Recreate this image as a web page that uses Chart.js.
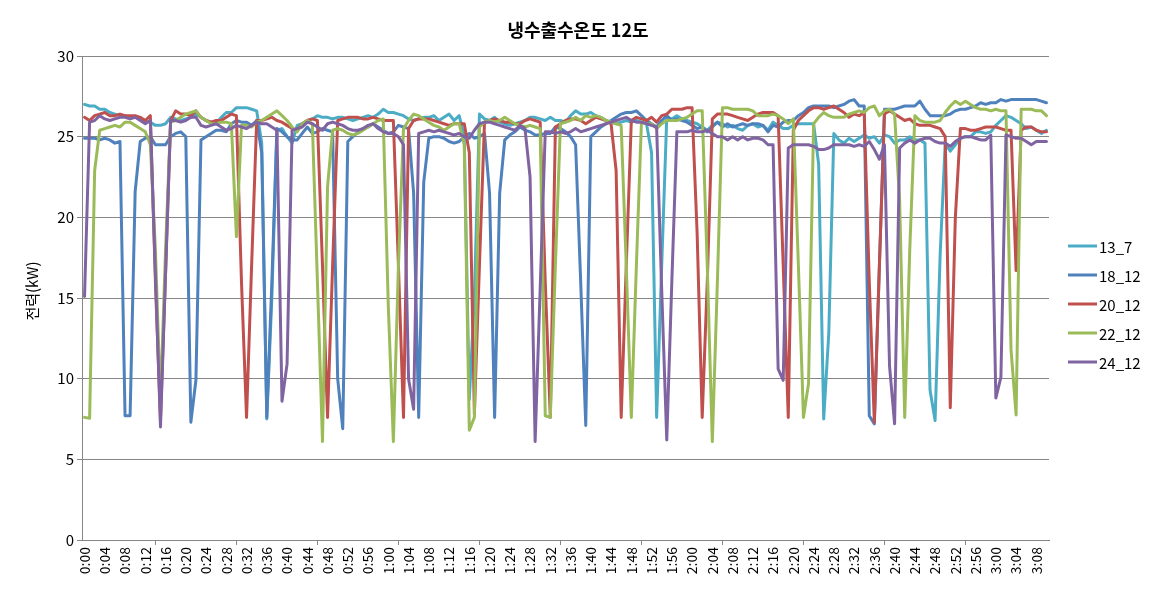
<!DOCTYPE html>
<html>
<head>
<meta charset="utf-8">
<script src="https://cdn.jsdelivr.net/npm/chart.js@4.4.0/dist/chart.umd.min.js"></script>
<style>
  html, body { margin: 0; padding: 0; background: #fff; }
</style>
</head>
<body>
<canvas id="chart" width="1154" height="606"></canvas>
<script>
// chart texts
const titleText = '냉수출수온도 12도';
const yTitle = '전력(kW)';
const seriesNames = ['13_7', '18_12', '20_12', '22_12', '24_12'];
const seriesColors = ['#4BACC6', '#4F81BD', '#C0504D', '#9BBB59', '#8064A2'];

// one category per minute, 0:00 .. 3:10
const timeLabels = [];
for (let m = 0; m <= 190; m++) {
    timeLabels.push(Math.floor(m / 60) + ':' + String(m % 60).padStart(2, '0'));
}

// values (kW)
const s13_7 = [
    27.0, 26.9, 26.9, 26.7, 26.7, 26.5, 26.4, 26.3, 26.3, 26.2, 26.2, 26.1, 26.0, 25.9, 25.7, 25.7, 25.8, 26.2, 26.1, 26.0,
    26.1, 26.2, 26.4, 26.2, 26.0, 25.9, 25.8, 26.2, 26.5, 26.5, 26.8, 26.8, 26.8, 26.7, 26.6, 24.6, 7.5, 15.0, 25.4, 25.5,
    25.0, 24.6, 25.7, 25.8, 26.0, 26.1, 26.3, 26.2, 26.2, 26.1, 26.2, 26.2, 26.1, 26.0, 26.1, 26.2, 26.3, 26.2, 26.4, 26.7,
    26.5, 26.5, 26.4, 26.3, 26.1, 26.0, 26.1, 26.2, 26.2, 26.3, 26.0, 26.2, 26.4, 26.0, 26.3, 25.0, 8.7, 15.0, 26.4, 26.1,
    26.0, 26.2, 25.9, 25.8, 25.7, 25.8, 25.9, 26.0, 26.2, 26.2, 26.1, 26.0, 26.2, 26.0, 26.0, 25.9, 26.3, 26.6, 26.4, 26.4,
    26.5, 26.3, 26.2, 26.0, 25.9, 25.8, 25.9, 26.0, 25.9, 26.0, 25.9, 25.8, 24.0, 7.6, 17.0, 26.2, 26.1, 26.3, 26.1, 26.0,
    25.9, 25.8, 25.6, 25.4, 25.7, 25.9, 25.8, 25.6, 25.7, 25.5, 25.4, 25.7, 25.8, 25.6, 25.7, 25.4, 25.9, 25.7, 25.5, 25.5,
    25.7, 25.8, 25.8, 25.8, 25.8, 23.3, 7.5, 12.8, 25.2, 24.8, 24.6, 24.9, 24.7, 24.9, 25.1, 24.9, 25.0, 24.6, 25.1, 25.0,
    24.6, 24.8, 24.8, 25.0, 24.8, 24.8, 24.6, 9.3, 7.4, 17.7, 24.6, 24.1, 24.5, 24.9, 25.0, 25.0, 25.3, 25.3, 25.2, 25.3,
    25.7, 26.0, 26.3, 26.2, 26.0, 25.8, 25.5, 25.6, 25.4, 25.2, 25.4
];
const s18_12 = [
    24.9, 24.9, 24.9, 24.8, 24.9, 24.8, 24.6, 24.7, 7.7, 7.7, 21.6, 24.7, 24.9, 25.0, 24.5, 24.5, 24.5, 25.0, 25.2, 25.3,
    25.0, 7.3, 9.9, 24.8, 25.0, 25.2, 25.4, 25.4, 25.3, 25.8, 26.0, 25.9, 25.9, 25.7, 26.0, 24.0, 7.6, 16.0, 25.5, 25.3,
    25.0, 24.8, 24.8, 25.2, 25.6, 25.2, 25.3, 25.5, 25.4, 25.3, 10.0, 6.9, 24.7, 25.0, 25.3, 25.5, 25.6, 25.8, 25.6, 25.4,
    25.2, 25.3, 25.7, 25.6, 25.5, 21.5, 7.6, 22.2, 24.9, 25.0, 25.0, 24.9, 24.7, 24.6, 24.7, 25.0, 25.2, 24.9, 25.0, 25.2,
    21.5, 7.6, 21.5, 24.8, 25.1, 25.3, 25.6, 25.4, 25.3, 25.1, 25.1, 25.2, 25.2, 25.6, 25.5, 25.3, 25.0, 24.5, 16.0, 7.1,
    25.0, 25.3, 25.6, 25.8, 26.0, 26.2, 26.4, 26.5, 26.5, 26.6, 26.3, 26.0, 25.8, 25.6, 26.0, 26.3, 26.0, 26.1, 26.0, 25.9,
    25.7, 25.5, 25.6, 25.3, 25.6, 25.9, 25.6, 25.8, 25.6, 25.7, 25.8, 25.7, 25.8, 25.8, 25.7, 25.3, 25.7, 25.6, 25.9, 26.0,
    26.0, 26.3, 26.5, 26.8, 26.9, 26.9, 26.9, 26.9, 26.8, 26.9, 27.0, 27.2, 27.3, 26.9, 26.9, 7.7, 7.2, 17.0, 26.7, 26.7,
    26.7, 26.8, 26.9, 26.9, 26.9, 27.2, 26.7, 26.3, 26.3, 26.3, 26.3, 26.4, 26.6, 26.7, 26.7, 26.8, 26.9, 27.1, 27.0, 27.1,
    27.1, 27.3, 27.2, 27.3, 27.3, 27.3, 27.3, 27.3, 27.3, 27.2, 27.1
];
const s20_12 = [
    26.2, 26.0, 26.3, 26.4, 26.5, 26.3, 26.3, 26.4, 26.3, 26.3, 26.3, 26.2, 26.0, 26.3, 16.0, 7.5, 16.5, 26.0, 26.6, 26.4,
    26.4, 26.3, 26.6, 26.2, 26.0, 25.9, 26.0, 26.0, 26.2, 26.4, 26.3, 16.0, 7.6, 17.0, 26.0, 26.0, 26.1, 26.2, 26.0, 25.9,
    25.7, 25.5, 25.4, 25.8, 26.0, 26.1, 26.0, 17.0, 7.6, 17.0, 26.0, 26.1, 26.2, 26.2, 26.2, 26.1, 26.1, 26.2, 26.1, 26.0,
    26.0, 26.0, 17.0, 7.6, 25.5, 26.0, 26.1, 26.1, 26.1, 26.0, 25.9, 25.8, 25.7, 25.8, 25.8, 25.8, 24.0, 7.8, 17.0, 25.9,
    26.0, 26.1, 26.0, 25.9, 25.9, 25.8, 25.8, 26.0, 26.1, 26.0, 25.9, 16.0, 7.6, 25.6, 25.8, 26.0, 26.1, 26.1, 26.0, 25.8,
    26.0, 26.2, 26.1, 26.0, 25.8, 22.9, 7.6, 17.0, 26.0, 26.2, 26.1, 26.0, 26.2, 25.9, 26.3, 26.4, 26.7, 26.7, 26.7, 26.8,
    26.8, 19.0, 7.6, 16.0, 26.1, 26.4, 26.4, 26.4, 26.3, 26.2, 26.1, 26.0, 26.2, 26.4, 26.5, 26.5, 26.5, 26.3, 17.0, 7.6,
    25.4, 26.0, 26.3, 26.6, 26.8, 26.8, 26.7, 26.8, 26.9, 26.7, 26.5, 26.2, 26.4, 26.3, 26.5, 16.0, 7.3, 17.0, 26.4, 26.6,
    26.4, 26.2, 26.0, 26.1, 25.8, 25.7, 25.7, 25.7, 25.6, 25.5, 25.0, 8.2, 20.0, 25.5, 25.5, 25.4, 25.4, 25.5, 25.6, 25.6,
    25.6, 25.5, 25.4, 25.4, 16.7, 25.4, 25.6, 25.6, 25.4, 25.3, 25.3
];
const s22_12 = [
    7.6, 7.55, 22.9, 25.4, 25.5, 25.6, 25.7, 25.6, 25.9, 25.9, 25.7, 25.5, 25.3, 24.5, 18.0, 8.5, 18.0, 25.9, 26.0, 26.2,
    26.4, 26.5, 26.6, 26.2, 26.0, 25.8, 25.8, 25.9, 25.9, 25.8, 18.8, 25.7, 25.7, 25.6, 25.9, 26.0, 26.2, 26.4, 26.6, 26.3,
    26.0, 25.6, 25.3, 25.8, 26.0, 25.8, 16.0, 6.1, 21.9, 25.4, 25.5, 25.4, 25.2, 25.1, 25.2, 25.4, 25.6, 25.8, 26.0, 26.1,
    14.5, 6.1, 17.0, 25.5, 26.0, 26.4, 26.3, 26.1, 25.9, 25.7, 25.6, 25.4, 25.6, 25.8, 25.8, 24.5, 6.8, 7.6, 25.6, 25.9,
    26.0, 25.9, 26.0, 26.2, 26.0, 25.8, 25.7, 25.6, 25.7, 25.6, 25.5, 7.7, 7.6, 17.0, 25.8, 25.9, 26.0, 26.2, 26.0, 26.3,
    26.2, 26.3, 26.2, 26.0, 25.9, 25.8, 25.7, 17.0, 7.6, 17.0, 25.9, 25.8, 25.8, 25.5, 25.8, 26.0, 26.0, 26.0, 26.1, 26.2,
    26.4, 26.6, 26.6, 17.0, 6.1, 16.0, 26.8, 26.8, 26.7, 26.7, 26.7, 26.7, 26.6, 26.3, 26.3, 26.3, 26.4, 26.3, 26.1, 25.8,
    26.1, 17.0, 7.6, 9.7, 25.8, 26.2, 26.5, 26.3, 26.2, 26.2, 26.2, 26.4, 26.5, 26.6, 26.5, 26.8, 26.9, 26.3, 26.6, 26.7,
    26.4, 21.0, 7.6, 18.0, 26.3, 26.0, 25.9, 25.9, 25.9, 26.0, 26.5, 26.9, 27.2, 27.0, 27.2, 27.0, 26.8, 26.7, 26.7, 26.6,
    26.7, 26.6, 26.6, 11.8, 7.75, 26.7, 26.7, 26.7, 26.6, 26.6, 26.3
];
const s24_12 = [
    15.1, 25.9, 26.0, 26.3, 26.1, 26.0, 26.1, 26.2, 26.2, 26.1, 26.2, 26.0, 25.8, 26.0, 16.5, 7.0, 16.5, 26.0, 26.0, 25.9,
    26.0, 26.2, 26.2, 25.7, 25.6, 25.7, 25.8, 25.6, 25.4, 25.5, 25.7, 25.6, 25.5, 25.7, 25.9, 25.8, 25.8, 25.6, 25.4, 8.6,
    10.9, 25.4, 25.5, 25.6, 25.9, 25.8, 25.6, 25.4, 25.8, 25.9, 25.8, 25.7, 25.5, 25.4, 25.4, 25.5, 25.7, 25.8, 25.5, 25.3,
    25.2, 25.2, 25.0, 24.5, 10.0, 8.1, 25.2, 25.3, 25.4, 25.3, 25.4, 25.3, 25.2, 25.1, 25.2, 25.0, 24.9, 25.4, 25.8, 25.9,
    25.9, 25.8, 25.7, 25.6, 25.5, 25.4, 25.7, 25.5, 22.5, 6.1, 15.6, 25.3, 25.3, 25.2, 25.3, 25.2, 25.3, 25.5, 25.3, 25.4,
    25.5, 25.6, 25.7, 25.8, 25.9, 26.0, 26.1, 26.2, 26.0, 25.9, 25.9, 25.8, 25.7, 25.6, 15.5, 6.2, 16.0, 25.3, 25.3, 25.3,
    25.4, 25.3, 25.3, 25.4, 25.2, 25.0, 25.0, 24.8, 25.0, 24.8, 25.0, 24.8, 24.9, 24.9, 24.8, 24.5, 24.5, 10.6, 9.9, 24.3,
    24.5, 24.5, 24.5, 24.5, 24.4, 24.2, 24.2, 24.3, 24.5, 24.5, 24.5, 24.5, 24.4, 24.5, 24.4, 24.7, 24.2, 23.6, 24.5, 10.8,
    7.2, 24.3, 24.6, 24.8, 24.6, 24.8, 24.9, 24.9, 24.7, 24.6, 24.6, 24.4, 24.7, 24.9, 25.0, 25.0, 24.9, 24.8, 24.8, 25.1,
    8.8, 10.1, 25.1, 25.0, 24.9, 24.9, 24.7, 24.5, 24.7, 24.7, 24.7
];
const seriesData = [s13_7, s18_12, s20_12, s22_12, s24_12];

const FONT = '"Noto Sans CJK KR", "Noto Sans", sans-serif';
const GRID = '#868686';

// title, y-axis title and legend drawn by hand to sit where Excel put them
const decorPlugin = {
    id: 'decor',
    afterDraw(chart) {
        const ctx = chart.ctx;
        ctx.save();
        ctx.fillStyle = '#000';
        ctx.textAlign = 'center';
        ctx.textBaseline = 'middle';
        ctx.font = 'bold 18px ' + FONT;
        ctx.fillText(titleText, 578, 30);

        ctx.save();
        ctx.translate(32, 291);
        ctx.rotate(-Math.PI / 2);
        ctx.font = '15px ' + FONT;
        ctx.fillText(yTitle, 0, 0);
        ctx.restore();

        ctx.textAlign = 'left';
        ctx.font = '15px ' + FONT;
        seriesNames.forEach((name, i) => {
            const y = 246 + i * 29;
            ctx.strokeStyle = seriesColors[i];
            ctx.lineWidth = 3;
            ctx.beginPath();
            ctx.moveTo(1068, y);
            ctx.lineTo(1097, y);
            ctx.stroke();
            ctx.fillStyle = '#000';
            ctx.fillText(name, 1099, y + 1);
        });
        ctx.restore();
    }
};

const datasets = seriesNames.map((name, i) => ({
    label: name,
    data: seriesData[i],
    borderColor: seriesColors[i],
    backgroundColor: seriesColors[i],
    borderWidth: 3,
    pointRadius: 0,
    tension: 0,
    borderJoinStyle: 'round',
    borderCapStyle: 'round',
    order: seriesNames.length - i   // later series on top, like Excel
}));

new Chart(document.getElementById('chart'), {
    type: 'line',
    data: { labels: timeLabels, datasets: datasets },
    options: {
        responsive: false,
        animation: false,
        layout: { padding: { top: 56, right: 105, bottom: 0, left: 0 } },
        plugins: {
            legend: { display: false },
            title: { display: false },
            tooltip: { enabled: false }
        },
        scales: {
            x: {
                type: 'category',
                offset: true,
                afterFit: scale => { scale.height = 66; },
                grid: {
                    offset: true,
                    drawOnChartArea: false,
                    drawTicks: true,
                    tickLength: 5,
                    tickColor: c => (c.index % 4 === 0 ? GRID : 'rgba(0,0,0,0)')
                },
                border: { color: GRID, width: 1 },
                ticks: {
                    autoSkip: false,
                    maxRotation: 90,
                    minRotation: 90,
                    padding: 2,
                    color: '#000',
                    font: { family: FONT, size: 14 },
                    callback: (value, index) => (index % 4 === 0 ? timeLabels[index] : null)
                }
            },
            y: {
                min: 0,
                max: 30,
                afterFit: scale => { scale.width = 82; },
                grid: { color: GRID, lineWidth: 1, tickLength: 5, tickColor: GRID },
                border: { color: GRID, width: 1 },
                ticks: {
                    stepSize: 5,
                    padding: 3,
                    color: '#000',
                    font: { family: FONT, size: 15 }
                }
            }
        }
    },
    plugins: [decorPlugin]
});
</script>
</body>
</html>
